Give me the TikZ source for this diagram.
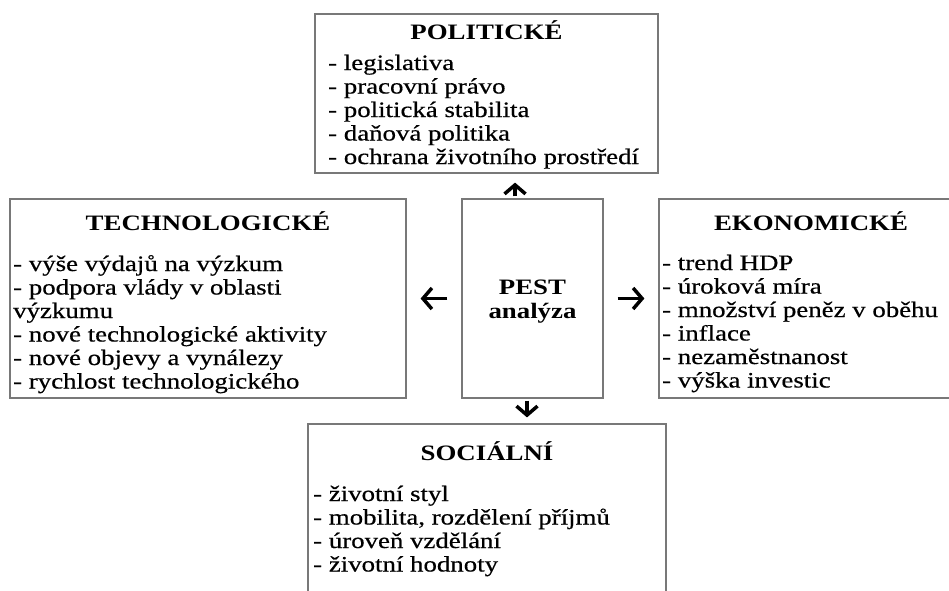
\documentclass[tikz,border=0pt]{standalone}
\usepackage{fontspec}
\setmainfont{Liberation Serif}[FakeStretch=1.22,UprightFeatures={FakeBold=0.5}]
\usetikzlibrary{arrows.meta}
\definecolor{boxline}{RGB}{120,120,120}
\newcommand{\itemlist}[1]{\begin{tabular}[t]{@{}l@{}}#1\end{tabular}}
\newcommand{\centerlist}[1]{\begin{tabular}[t]{@{}c@{}}#1\end{tabular}}
\begin{document}
\begin{tikzpicture}[x=1pt,y=-1pt,
  box/.style={draw=boxline,line width=1.2pt,rectangle,inner sep=0pt},
  ttl/.style={anchor=base,inner sep=0pt,font=\fontsize{22}{24}\selectfont\bfseries},
  txt/.style={anchor=base west,inner sep=0pt,font=\fontsize{22}{23.5}\selectfont},
  pa/.style={line width=3.5pt,-{Straight Barb[length=9pt,width=21pt]}}]
\useasboundingbox (0,0) rectangle (949,590);
\clip (0,0) rectangle (949,590);
\fill[white] (0,0) rectangle (949,590);
% boxes
\node[box,minimum width=343pt,minimum height=159pt] (pol) at (486.5,93.5) {};
\node[box,minimum width=396pt,minimum height=199pt] (tech) at (208,298.5) {};
\node[box,minimum width=141pt,minimum height=199pt] (pest) at (532.5,298.5) {};
\node[box,minimum width=304pt,minimum height=199pt] (eko) at (811,298.5) {};
\node[box,minimum width=358pt,minimum height=190pt] (soc) at (487,519) {};
% texts
\node[ttl] (polt) at (486.5,39) {POLITICKÉ};
\node[txt] (poll) at (328,70) {\itemlist{- legislativa\\- pracovní právo\\- politická stabilita\\- daňová politika\\- ochrana životního prostředí}};
\node[ttl] (techt) at (208,230) {TECHNOLOGICKÉ};
\node[txt] (techl) at (13,271) {\itemlist{- výše výdajů na výzkum\\- podpora vlády v oblasti\\výzkumu\\- nové technologické aktivity\\- nové objevy a vynálezy\\- rychlost technologického}};
\node[ttl] (pestt) at (532.5,294) {\centerlist{PEST\\analýza}};
\node[ttl] (ekot) at (811,230) {EKONOMICKÉ};
\node[txt] (ekol) at (662,270) {\itemlist{- trend HDP\\- úroková míra\\- množství peněz v oběhu\\- inflace\\- nezaměstnanost\\- výška investic}};
\node[ttl] (soct) at (487,460) {SOCIÁLNÍ};
\node[txt] (socl) at (313,501) {\itemlist{- životní styl\\- mobilita, rozdělení příjmů\\- úroveň vzdělání\\- životní hodnoty}};
% arrows
\draw[pa] ([xshift=-17.5pt,yshift=2pt]pest.north) -- ([xshift=28.5pt,yshift=-9pt]pol.south);
\draw[pa] ([xshift=-14pt]pest.west) -- ([xshift=14pt]tech.east);
\draw[pa] ([xshift=14pt]pest.east) -- ([xshift=-14pt]eko.west);
\draw[pa] ([xshift=-5.5pt,yshift=-2pt]pest.south) -- ([xshift=40pt,yshift=6pt]soc.north);
\end{tikzpicture}
\end{document}
